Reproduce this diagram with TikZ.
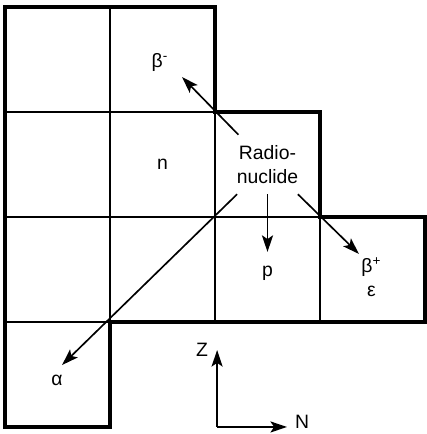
\documentclass[tikz,border=0pt]{standalone}
\usepackage{fontspec}
\setmainfont{Liberation Sans}
\usetikzlibrary{arrows.meta,positioning}

\begin{document}
\begin{tikzpicture}[
  x=2cm, y=2cm,
  gridLine/.style={line width=0.6pt},
  chartEdge/.style={line width=2pt, line join=miter},
  decay/.style={->, line width=0.9pt},
  lbl/.style={font=\fontsize{10.5}{13}\selectfont, inner sep=0pt},
  >={Stealth[length=9pt, width=6pt, inset=2pt]}
]
  \useasboundingbox (-0.048,-0.067) rectangle (4.019,4.067);

  % cells of the chart
  \draw[gridLine] (1,1) -- (1,4) (2,1) -- (2,3) (3,1) -- (3,2);
  \draw[gridLine] (0,3) -- (2,3) (0,2) -- (3,2) (0,1) -- (1,1);
  \draw[chartEdge] (0,0) -- (0,4) -- (2,4) -- (2,3) -- (3,3) -- (3,2)
    -- (4,2) -- (4,1) -- (1,1) -- (1,0) -- cycle;

  % nuclide and daughters
  \node[lbl, align=center, minimum width=1.2cm, minimum height=1.12cm]
    (rn) at (2.5,2.5) {Radio-\\nuclide};
  \node[lbl] (n) at (1.5,2.5) {n};
  \node[lbl] (p) at (2.5,1.467) {p};
  \node[lbl] (bm) at (1.476,3.467) {β\textsuperscript{-}};
  \node[lbl, align=center] (bp) at (3.49,1.43) {β\textsuperscript{+}\\ε};
  \node[lbl] (al) at (0.495,0.448) {α};

  \coordinate (bmTip) at (1.686,3.333);
  \coordinate (pTip) at (2.5,1.667);
  \coordinate (bpTip) at (3.371,1.648);
  \coordinate (alTip) at (0.543,0.59);
  \foreach \t in {bmTip, pTip, bpTip, alTip}
    \draw[decay] (rn) -- (\t);

  % axes
  \coordinate (ax) at (2.02,0);
  \coordinate (zTip) at (2.02,0.733);
  \coordinate (nTip) at (2.686,0);
  \draw[decay] (ax) -- (zTip);
  \draw[decay] (ax) -- (nTip);
  \node[lbl] (zl) at (1.876,0.733) {Z};
  \node[lbl] (nl) at (2.83,0.048) {N};
\end{tikzpicture}
\end{document}
